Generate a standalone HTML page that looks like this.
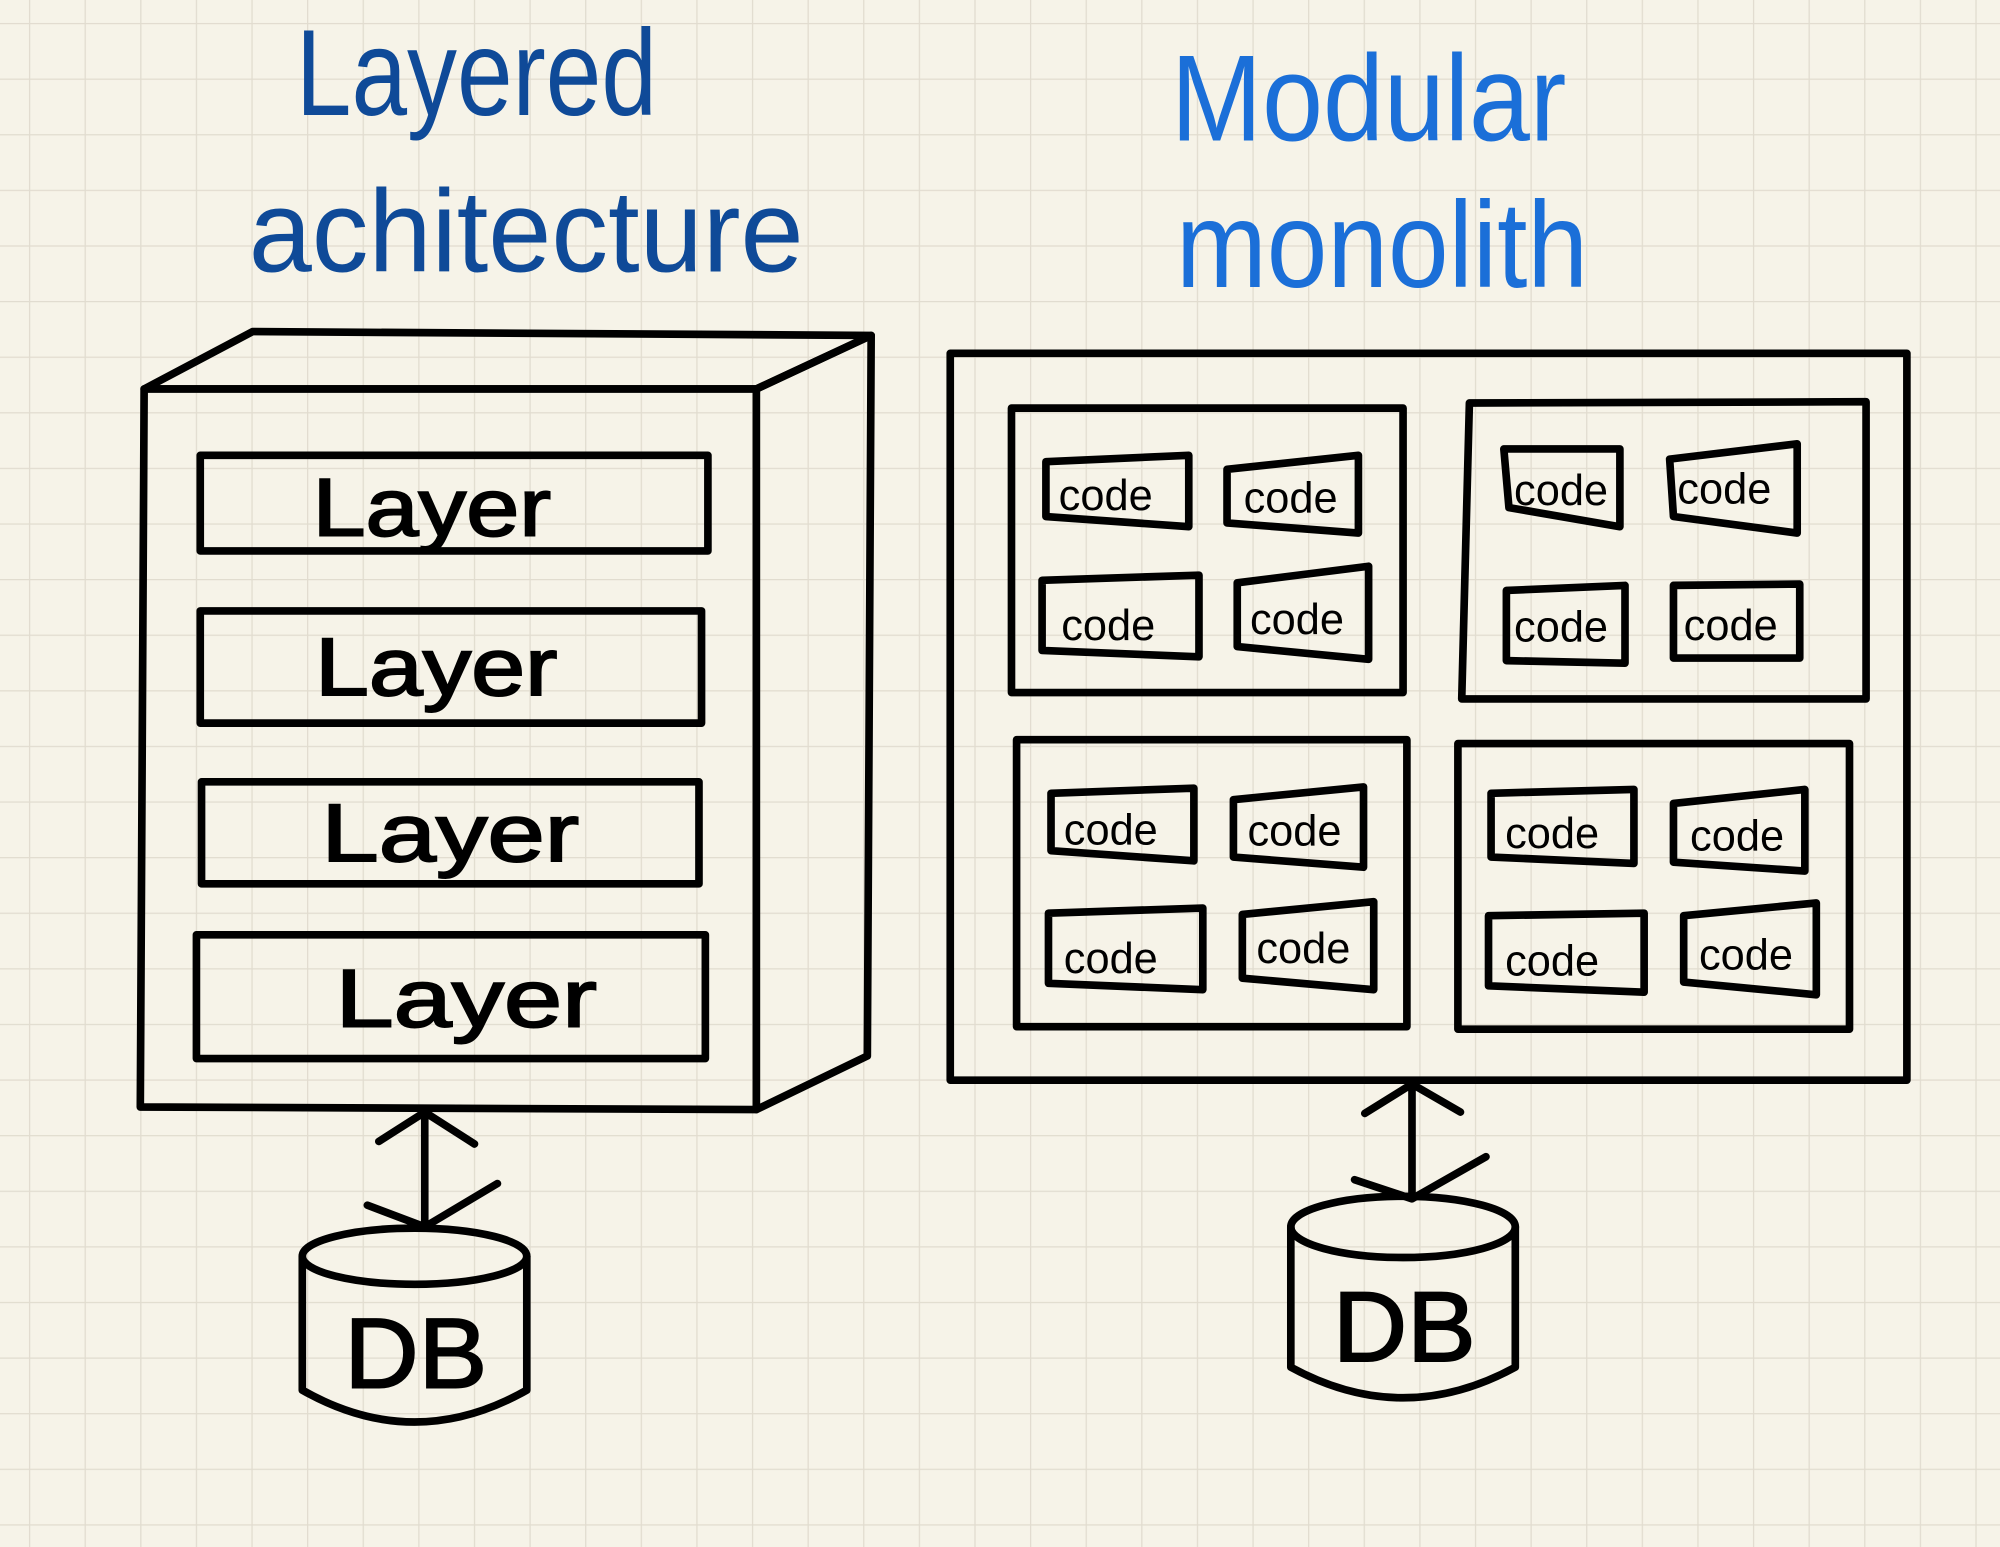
<!DOCTYPE html>
<html><head><meta charset="utf-8"><style>
html,body{margin:0;padding:0;background:#f6f3e8;}
svg{display:block}
text{font-family:"Liberation Sans",sans-serif;}
</style></head><body>
<svg width="2000" height="1547" viewBox="0 0 1568 1213" preserveAspectRatio="none" xmlns="http://www.w3.org/2000/svg">
<defs>
<pattern id="g" x="22.7" y="18" width="43.6" height="43.6" patternUnits="userSpaceOnUse">
<path d="M0 0H43.6M0 0V43.6" stroke="#e1dccf" stroke-width="2" fill="none"/>
</pattern>
</defs>
<rect width="1568" height="1213" fill="#f6f3e8"/>
<rect width="1568" height="1213" fill="url(#g)"/>

<text x="232" y="90" font-size="96" fill="#0f4a98" textLength="283" lengthAdjust="spacingAndGlyphs">Layered</text>
<text x="195" y="213" font-size="92" fill="#0f4a98" textLength="435" lengthAdjust="spacingAndGlyphs">achitecture</text>
<text x="918" y="110" font-size="96" fill="#1b6fd8" textLength="310" lengthAdjust="spacingAndGlyphs">Modular</text>
<text x="922" y="225" font-size="96" fill="#1b6fd8" textLength="323" lengthAdjust="spacingAndGlyphs">monolith</text>

<g fill="none" stroke="#000" stroke-width="6" stroke-linejoin="round" stroke-linecap="round">
<path d="M113 305 L198 260 L683 263 L593 305 Z"/>
<path d="M113 305 L593 305 L593 870 L110 868 Z"/>
<path d="M593 305 L683 263 L680 828 L593 870"/>
<rect x="157" y="357" width="398" height="75"/>
<rect x="157" y="479" width="393" height="88"/>
<rect x="158" y="613" width="390" height="80"/>
<rect x="154" y="733" width="399" height="97"/>
<path d="M333 872 V962 M297 895 L333 872 L372 897 M288 945 L333 962 L390 928"/>
<path d="M237 985 V1090 Q325 1140 413 1090 V985"/>
<ellipse cx="325" cy="985" rx="88" ry="22"/>

<rect x="745" y="277" width="750" height="570"/>
<rect x="793" y="320" width="307" height="223"/>
<path d="M1152 316 L1463 315 L1463 548 L1146 548 Z"/>
<rect x="797" y="580" width="306" height="225"/>
<rect x="1143" y="583" width="307" height="224"/>
<path d="M1107 850 V940 M1070 873 L1107 850 L1145 872 M1062 925 L1107 940 L1165 907"/>
<path d="M1012 962 V1072 Q1100 1120 1188 1072 V962"/>
<ellipse cx="1100" cy="962" rx="88" ry="24"/>
</g>
<g fill="none" stroke="#000" stroke-width="6" stroke-linejoin="round">
<path d="M820 362 L932 357 L932 413 L820 405 Z"/>
<path d="M962 368 L1065 357 L1065 418 L962 410 Z"/>
<path d="M817 455 L940 451 L940 515 L817 510 Z"/>
<path d="M970 457 L1073 444 L1073 517 L970 507 Z"/>
<path d="M1179 352 L1270 352 L1270 413 L1183 398 Z"/>
<path d="M1309 360 L1409 348 L1409 418 L1312 405 Z"/>
<path d="M1181 463 L1274 459 L1274 520 L1181 518 Z"/>
<path d="M1312 459 L1411 458 L1411 516 L1312 516 Z"/>
<path d="M824 622 L936 618 L936 675 L824 667 Z"/>
<path d="M967 627 L1069 617 L1069 680 L967 672 Z"/>
<path d="M822 716 L943 712 L943 776 L822 771 Z"/>
<path d="M974 717 L1077 707 L1077 776 L974 767 Z"/>
<path d="M1169 622 L1281 619 L1281 677 L1169 672 Z"/>
<path d="M1312 630 L1415 619 L1415 683 L1312 676 Z"/>
<path d="M1167 718 L1289 716 L1289 778 L1167 773 Z"/>
<path d="M1320 718 L1424 708 L1424 780 L1320 770 Z"/>
</g>
<g font-size="64" fill="#000" stroke="#000" stroke-width="1.5">
<text x="245" y="420" textLength="187" lengthAdjust="spacingAndGlyphs">Layer</text>
<text x="247" y="545" textLength="190" lengthAdjust="spacingAndGlyphs">Layer</text>
<text x="252" y="675" textLength="202" lengthAdjust="spacingAndGlyphs">Layer</text>
<text x="263" y="805" textLength="205" lengthAdjust="spacingAndGlyphs">Layer</text>
<text x="270" y="1088" font-size="78" textLength="112" lengthAdjust="spacingAndGlyphs">DB</text>
<text x="1045" y="1067" font-size="78" textLength="112" lengthAdjust="spacingAndGlyphs">DB</text>
</g>
<g font-size="34" fill="#000">
<text x="830" y="400">code</text>
<text x="975" y="402">code</text>
<text x="832" y="502">code</text>
<text x="980" y="497">code</text>
<text x="1187" y="396">code</text>
<text x="1315" y="395">code</text>
<text x="1187" y="503">code</text>
<text x="1320" y="502">code</text>
<text x="834" y="662">code</text>
<text x="978" y="663">code</text>
<text x="834" y="763">code</text>
<text x="985" y="755">code</text>
<text x="1180" y="665">code</text>
<text x="1325" y="667">code</text>
<text x="1180" y="765">code</text>
<text x="1332" y="760">code</text>
</g>
</svg>
</body></html>
